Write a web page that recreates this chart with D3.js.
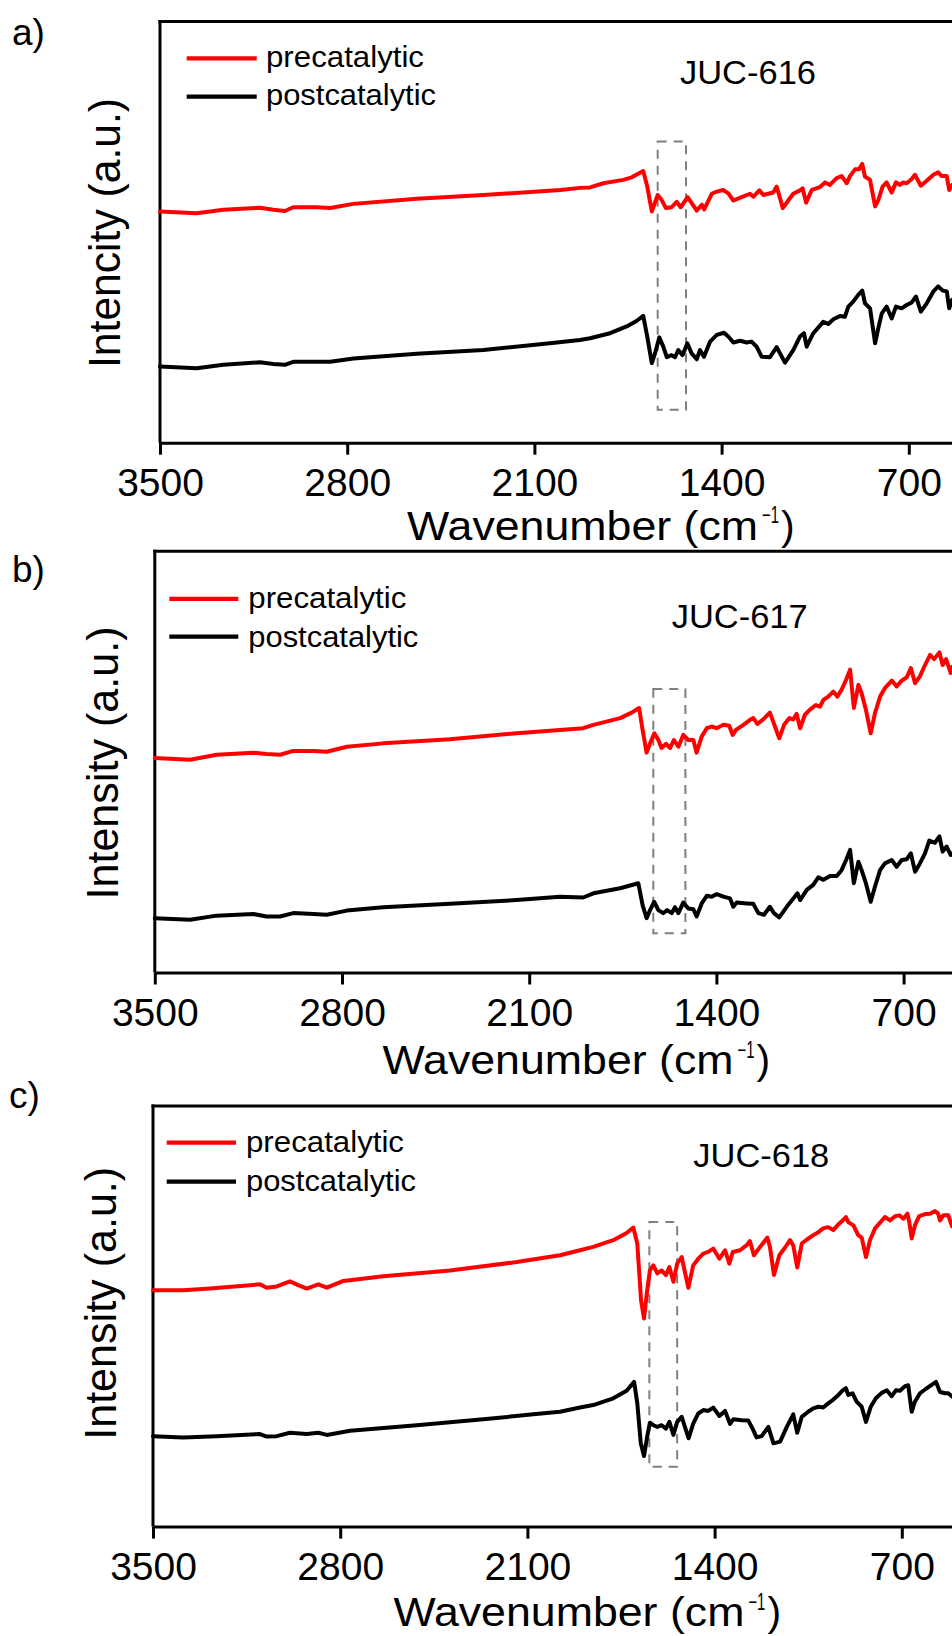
<!DOCTYPE html>
<html><head><meta charset="utf-8">
<script src="https://cdn.jsdelivr.net/npm/d3@7"></script>
<style>
body{margin:0;background:#fff}
svg{display:block}
text{font-family:"Liberation Sans",Arial,Helvetica,sans-serif;fill:#000}
</style>
</head><body>
<svg id="chart" width="952" height="1636"></svg>
<script>
// ---------- data ----------
const xTicks = [3500, 2800, 2100, 1400, 700];
const xDomain = [3500, 400];
const yDomain = [0, 100];
const seriesNames = ["precatalytic", "postcatalytic"];
const seriesColors = ["#ff0000", "#000000"];
const sampleNames = ["JUC-616", "JUC-617", "JUC-618"];
const panelLetters = ["a)", "b)", "c)"];
const yLabels = ["Intencity (a.u.)", "Intensity (a.u.)", "Intensity (a.u.)"];

// [wavenumber cm-1, intensity a.u.]
const juc616Pre = [[3500,54.9],[3363,54.5],[3263,55.3],[3126,55.8],[3076,55.3],[3033,55.0],[3002,55.9],[2914,55.9],[2864,55.7],[2777,56.7],[2540,57.9],[2291,58.8],[2004,60.0],[1930,60.5],[1892,60.6],[1842,61.6],[1768,62.4],[1736,63.0],[1693,64.5],[1678,60.8],[1661,54.9],[1639,58.8],[1624,57.6],[1608,55.7],[1587,55.9],[1568,57.2],[1553,55.9],[1527,58.3],[1508,56.5],[1493,55.1],[1474,56.5],[1465,55.4],[1437,59.1],[1418,59.6],[1394,60.0],[1375,59.2],[1356,57.5],[1325,58.3],[1294,59.1],[1281,58.4],[1259,59.9],[1244,58.8],[1207,59.4],[1194,60.8],[1171,55.7],[1144,58.1],[1132,59.1],[1107,59.9],[1097,60.4],[1084,57.0],[1063,60.0],[1032,60.7],[1013,61.8],[995,61.2],[970,62.8],[951,63.3],[932,61.6],[920,63.3],[901,64.9],[886,64.9],[874,66.2],[864,63.2],[845,62.4],[826,56.1],[814,57.6],[798,60.8],[783,61.8],[764,59.4],[748,61.8],[733,61.2],[721,61.8],[708,61.6],[689,62.6],[677,63.6],[655,61.0],[633,62.2],[608,63.6],[590,64.2],[577,63.3],[558,63.3],[549,60.0],[538,61.2]];
const juc616Post = [[3500,18.1],[3363,17.7],[3263,18.5],[3126,19.1],[3076,18.7],[3033,18.5],[3002,19.2],[2864,19.2],[2777,20.0],[2540,21.1],[2291,22.0],[2042,23.6],[1930,24.4],[1892,24.8],[1817,26.0],[1755,27.6],[1718,28.9],[1693,30.1],[1678,25.2],[1661,18.9],[1649,21.2],[1633,25.0],[1618,22.8],[1605,20.3],[1587,20.8],[1574,20.3],[1562,22.0],[1546,20.8],[1528,23.6],[1512,21.2],[1493,19.8],[1481,22.0],[1466,20.4],[1443,24.0],[1418,25.6],[1391,26.1],[1375,25.2],[1356,23.8],[1331,24.2],[1306,23.8],[1288,24.0],[1269,22.8],[1250,20.4],[1219,20.3],[1194,22.7],[1163,19.0],[1132,22.0],[1107,25.2],[1092,26.0],[1082,22.8],[1057,26.0],[1020,28.7],[1001,28.2],[982,29.3],[957,30.1],[939,29.9],[926,32.3],[908,33.5],[889,35.1],[874,36.1],[864,33.1],[845,31.9],[826,23.6],[814,27.2],[801,30.7],[783,32.3],[764,29.5],[748,32.3],[727,31.9],[708,32.7],[689,33.3],[673,34.7],[655,31.1],[633,33.1],[608,35.9],[590,37.1],[573,36.1],[558,35.9],[549,31.9],[538,33.9]];
const juc617Pre = [[3500,50.9],[3368,50.5],[3269,51.7],[3132,52.2],[3082,51.9],[3032,51.7],[2982,52.6],[2907,52.6],[2857,52.4],[2782,53.6],[2646,54.4],[2396,55.4],[2147,56.8],[1985,57.6],[1898,58.0],[1860,58.8],[1760,60.4],[1717,61.7],[1689,62.8],[1676,57.6],[1661,52.2],[1648,54.4],[1632,56.8],[1617,55.2],[1605,53.3],[1588,54.3],[1573,53.3],[1559,55.2],[1542,53.6],[1524,56.4],[1505,55.2],[1486,55.2],[1474,52.2],[1455,56.0],[1436,58.0],[1418,58.4],[1399,58.0],[1374,58.8],[1352,58.6],[1339,56.4],[1327,57.6],[1299,58.8],[1274,60.0],[1262,60.4],[1247,59.0],[1225,60.1],[1200,61.7],[1181,58.4],[1165,55.6],[1147,58.8],[1127,60.4],[1112,60.1],[1100,61.4],[1087,58.0],[1069,61.2],[1050,62.4],[1028,63.5],[1013,63.1],[1000,64.7],[982,65.5],[963,66.7],[948,65.5],[932,67.1],[915,69.5],[900,71.9],[886,62.8],[869,68.3],[857,66.3],[841,62.4],[823,56.8],[807,61.6],[788,65.5],[770,67.5],[744,69.3],[726,67.9],[707,69.3],[688,70.1],[673,72.3],[657,68.7],[639,70.3],[620,73.0],[601,75.4],[586,74.4],[566,76.0],[554,73.0],[541,74.4],[524,71.1],[519,72.6]];
const juc617Post = [[3500,12.9],[3368,12.5],[3269,13.5],[3132,13.9],[3082,13.3],[3032,13.3],[2982,14.1],[2907,13.9],[2857,13.7],[2782,14.7],[2646,15.5],[2396,16.3],[2147,17.2],[1985,18.0],[1898,17.8],[1860,18.8],[1760,20.0],[1692,21.2],[1676,16.0],[1661,12.9],[1648,14.8],[1633,16.8],[1617,14.8],[1599,14.1],[1584,14.8],[1567,14.1],[1555,15.5],[1542,14.1],[1524,16.6],[1505,15.2],[1486,15.0],[1474,13.3],[1455,16.4],[1436,18.2],[1418,18.0],[1399,18.6],[1374,18.0],[1349,17.6],[1337,15.6],[1324,16.6],[1287,16.4],[1262,16.3],[1243,14.1],[1222,13.7],[1200,15.6],[1185,14.1],[1165,13.1],[1137,15.6],[1112,17.6],[1097,18.8],[1087,17.2],[1062,19.6],[1038,20.8],[1019,22.6],[1000,22.0],[975,22.9],[950,22.9],[932,24.3],[915,26.7],[900,29.1],[886,21.2],[869,26.3],[857,24.3],[841,21.2],[823,16.8],[807,20.4],[788,24.3],[770,25.9],[744,26.7],[726,25.1],[707,26.7],[688,26.9],[673,28.3],[657,23.9],[639,25.9],[620,28.3],[604,31.3],[583,30.8],[566,32.3],[554,28.7],[539,29.9],[524,27.9],[519,28.3]];
const juc618Pre = [[3500,56.2],[3387,56.2],[3287,56.6],[3100,57.6],[3075,56.8],[3037,57.1],[2988,58.3],[2957,57.4],[2925,56.6],[2882,57.6],[2850,56.8],[2788,58.4],[2639,59.5],[2389,60.9],[2140,62.9],[1978,64.5],[1903,65.7],[1854,66.5],[1779,68.1],[1729,69.8],[1704,71.1],[1689,67.3],[1675,53.8],[1664,49.5],[1652,56.2],[1642,60.9],[1629,62.1],[1614,60.2],[1598,60.9],[1582,59.8],[1569,61.7],[1554,58.2],[1540,62.5],[1523,64.1],[1511,60.5],[1498,56.8],[1480,62.1],[1461,63.7],[1442,64.9],[1424,65.3],[1405,66.1],[1382,63.7],[1361,65.7],[1345,62.5],[1332,65.3],[1305,65.7],[1280,66.9],[1268,67.9],[1253,64.5],[1230,66.5],[1203,68.7],[1193,66.5],[1178,59.8],[1158,64.5],[1137,66.3],[1118,68.1],[1106,66.9],[1091,61.6],[1074,67.3],[1056,68.2],[1031,69.3],[1012,70.0],[994,70.9],[975,71.2],[956,70.5],[937,71.9],[921,72.8],[909,73.6],[900,72.4],[881,71.6],[863,69.3],[850,68.7],[834,64.1],[819,68.1],[800,70.9],[782,72.2],[763,73.6],[744,72.8],[725,73.8],[709,74.0],[694,73.2],[679,74.4],[672,72.4],[663,68.5],[651,71.6],[635,73.8],[613,74.3],[595,74.4],[576,75.0],[564,74.4],[557,72.8],[545,74.0],[526,74.0],[512,71.4]];
const juc618Post = [[3500,21.5],[3387,21.2],[3262,21.5],[3100,22.0],[3075,21.4],[3037,21.5],[2988,22.3],[2925,22.0],[2882,22.3],[2850,21.8],[2763,22.8],[2514,24.1],[2265,25.5],[2078,26.7],[1978,27.3],[1903,28.3],[1854,28.9],[1779,30.5],[1729,32.3],[1701,34.4],[1689,29.3],[1676,19.8],[1664,16.8],[1652,21.4],[1642,24.7],[1629,24.1],[1614,23.7],[1598,24.1],[1582,23.3],[1569,24.9],[1554,21.8],[1540,24.9],[1523,26.1],[1511,23.7],[1497,21.0],[1480,24.5],[1461,26.9],[1442,27.7],[1424,27.5],[1405,28.3],[1382,26.3],[1361,27.5],[1342,24.4],[1330,25.5],[1299,25.3],[1274,25.2],[1258,23.3],[1243,21.2],[1224,21.5],[1199,23.7],[1180,19.8],[1155,20.2],[1130,23.7],[1106,26.7],[1091,22.3],[1074,26.1],[1050,27.3],[1031,28.1],[1012,28.5],[994,28.3],[975,29.3],[956,30.2],[937,31.3],[921,32.4],[909,32.9],[900,31.3],[884,31.7],[869,29.7],[850,28.5],[834,24.9],[816,28.5],[797,30.5],[775,31.8],[756,32.4],[738,31.0],[722,32.4],[707,32.3],[688,33.4],[676,33.6],[663,27.3],[651,29.7],[632,31.7],[613,32.6],[595,33.4],[572,34.4],[557,32.0],[538,31.7],[526,31.7],[512,30.9]];

// dashed highlight boxes: [wn start, wn end, intensity bottom, intensity top]
const box616 = [1639, 1533, 7.8, 71.5];
const box617 = [1636, 1516, 9.3, 67.3];
const box618 = [1644, 1540, 14.2, 72.4];

const panelSeries = [[juc616Pre, juc616Post], [juc617Pre, juc617Post], [juc618Pre, juc618Post]];
const panelBoxes = [box616, box617, box618];

// ---------- layout ----------
const pxPer700 = 187.2;
const layouts = [
  {left:160, top:21.5, bottom:442.7, letter:[12,44.8], title:[680,84.4],
   leg:{x1:186.7,x2:256.7,y:[58.3,96.7],tx:266,ty:[67,105]}, ylab:{x:119.5,cy:233,len:270}, xlab:{x:407,base:539.5}},
  {left:154.8, top:551.3, bottom:972.5, letter:[12,581.5], title:[671.7,628.3],
   leg:{x1:169.3,x2:238.3,y:[598.9,636.7],tx:248.3,ty:[608,646.5]}, ylab:{x:118.4,cy:763,len:273}, xlab:{x:382.5,base:1074}},
  {left:153, top:1106, bottom:1526.6, letter:[9,1107.8], title:[693.3,1166.5],
   leg:{x1:166.7,x2:236,y:[1142.7,1181.7],tx:246,ty:[1151.5,1190.5]}, ylab:{x:116,cy:1303.3,len:273}, xlab:{x:393.4,base:1625.8}}
];

const svg = d3.select("#chart");

layouts.forEach((L, i) => {
  const g = svg.append("g");
  const xRight = L.left + (xDomain[0] - xDomain[1]) / 700 * pxPer700;
  const x = d3.scaleLinear().domain(xDomain).range([L.left, xRight]);
  const y = d3.scaleLinear().domain(yDomain).range([L.bottom, L.top]);

  // frame: left axis and top border
  g.append("line").attr("x1", L.left).attr("x2", L.left).attr("y1", L.top - 1.5).attr("y2", L.bottom)
    .attr("stroke", "#000").attr("stroke-width", 3);
  g.append("line").attr("x1", L.left - 1.5).attr("x2", xRight).attr("y1", L.top).attr("y2", L.top)
    .attr("stroke", "#000").attr("stroke-width", 3);

  // bottom axis
  const ax = g.append("g").attr("transform", `translate(0,${L.bottom})`)
    .call(d3.axisBottom(x).tickValues(xTicks).tickSize(12).tickSizeOuter(0).tickPadding(14).tickFormat(d3.format("d")));
  ax.select(".domain").attr("stroke", "#000").attr("stroke-width", 3);
  ax.selectAll(".tick line").attr("stroke", "#000").attr("stroke-width", 3);
  ax.selectAll(".tick text").attr("font-size", 39).attr("font-family", '"Liberation Sans", Arial, sans-serif').attr("fill", "#000");

  // dashed box
  const b = panelBoxes[i];
  g.append("rect")
    .attr("x", x(b[0])).attr("width", x(b[1]) - x(b[0]))
    .attr("y", y(b[3])).attr("height", y(b[2]) - y(b[3]))
    .attr("fill", "none").attr("stroke", "#7f7f7f").attr("stroke-width", 2)
    .attr("stroke-dasharray", "9,7");

  // spectra
  const line = d3.line().x(d => x(d[0])).y(d => y(d[1]));
  panelSeries[i].forEach((s, k) => {
    g.append("path").datum(s).attr("d", line)
      .attr("fill", "none").attr("stroke", seriesColors[k]).attr("stroke-width", 4)
      .attr("stroke-linejoin", "round").attr("stroke-linecap", "round");
  });

  // legend
  seriesNames.forEach((n, k) => {
    g.append("line").attr("x1", L.leg.x1).attr("x2", L.leg.x2).attr("y1", L.leg.y[k]).attr("y2", L.leg.y[k])
      .attr("stroke", seriesColors[k]).attr("stroke-width", 4.2);
    g.append("text").attr("x", L.leg.tx).attr("y", L.leg.ty[k]).attr("font-size", 30)
      .attr("textLength", k === 0 ? 158 : 170).attr("lengthAdjust", "spacingAndGlyphs").text(n);
  });

  // sample title
  g.append("text").attr("x", L.title[0]).attr("y", L.title[1]).attr("font-size", 34)
    .attr("textLength", 136).attr("lengthAdjust", "spacingAndGlyphs").text(sampleNames[i]);

  // panel letter
  g.append("text").attr("x", L.letter[0]).attr("y", L.letter[1]).attr("font-size", 37).text(panelLetters[i]);

  // y label
  g.append("text").attr("transform", `translate(${L.ylab.x},${L.ylab.cy}) rotate(-90)`)
    .attr("text-anchor", "middle").attr("font-size", 45)
    .attr("textLength", L.ylab.len).attr("lengthAdjust", "spacingAndGlyphs").text(yLabels[i]);

  // x label
  g.append("text").attr("x", L.xlab.x).attr("y", L.xlab.base).attr("font-size", 41)
    .attr("textLength", 351).attr("lengthAdjust", "spacingAndGlyphs").text("Wavenumber (cm");
  g.append("text").attr("x", L.xlab.x + 355).attr("y", L.xlab.base - 16.2).attr("font-size", 23)
    .attr("textLength", 17).attr("lengthAdjust", "spacingAndGlyphs").text("\u22121");
  g.append("text").attr("x", L.xlab.x + 374).attr("y", L.xlab.base).attr("font-size", 41).text(")");
});
</script>
</body></html>
